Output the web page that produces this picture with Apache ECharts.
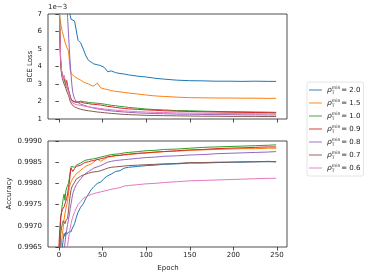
<!DOCTYPE html>
<html><head><meta charset="utf-8">
<script src="https://cdn.jsdelivr.net/npm/echarts@6/dist/echarts.min.js"></script>
<style>html,body{margin:0;padding:0;background:#fff}#c{width:374px;height:278px}</style>
</head><body><div id="c"></div>
<script>
var epochs = [0,1,2,3,4,5,6,7,8,9,10,11,12,13,14,15,16,18,20,22,25,28,31,34,37,40,44,48,52,56,60,65,70,75,80,90,100,110,120,135,150,165,180,195,210,225,240,249];
var labels = ['2.0','1.5','1.0','0.9','0.8','0.7','0.6'];
var colors = ['#1f77b4','#ff7f0e','#2ca02c','#d62728','#9467bd','#8c564b','#e377c2'];
var xTicks = [0,50,100,150,200,250];
// BCE loss in units of 1e-3
var loss20 = [16,15,14,13,12,11.5,11,10.5,10,9.3,8.5,7.9,7.3,6.9,6.7,6.6,6.8,6.6,6.6,5.5,5.35,5.0,4.6,4.35,4.25,4.15,4.1,4.05,3.95,3.7,3.75,3.65,3.6,3.57,3.52,3.45,3.4,3.33,3.28,3.22,3.19,3.18,3.16,3.16,3.15,3.16,3.15,3.15];
var loss15 = [7.8,6.9,6.5,6.2,6.0,5.8,5.6,5.4,5.3,5.1,5.0,4.9,4.4,3.8,3.6,3.55,3.5,3.42,3.35,3.3,3.22,3.12,3.05,3.0,2.92,2.88,3.05,2.78,2.72,2.68,2.62,2.58,2.55,2.52,2.48,2.43,2.37,2.32,2.29,2.25,2.22,2.21,2.2,2.2,2.19,2.19,2.18,2.18];
var loss10 = [9.5,6.5,4.5,3.8,3.6,3.4,3.3,3.1,2.9,2.8,2.9,2.6,2.5,2.3,2.1,2.05,2.0,2.0,1.98,1.97,2.02,2.0,1.97,1.95,1.93,1.92,1.9,1.88,1.85,1.82,1.78,1.76,1.72,1.7,1.66,1.62,1.57,1.54,1.52,1.48,1.47,1.45,1.43,1.42,1.41,1.4,1.39,1.38];
var loss09 = [9,6,4.3,3.7,3.5,3.6,3.4,3.2,3.0,3.2,2.9,2.7,2.5,2.3,2.15,2.05,2.0,1.98,1.95,1.96,1.97,1.92,1.9,1.88,1.85,1.84,1.82,1.8,1.76,1.72,1.7,1.66,1.63,1.6,1.58,1.55,1.52,1.5,1.47,1.45,1.43,1.41,1.4,1.39,1.38,1.37,1.36,1.35];
var loss08 = [14,13.5,13,12.5,12,11.5,11,10,9,7.8,6.8,5.9,5.0,4.2,3.5,2.9,2.5,2.15,2.0,1.92,1.85,1.8,1.75,1.7,1.66,1.62,1.58,1.55,1.52,1.49,1.46,1.44,1.42,1.4,1.38,1.35,1.33,1.31,1.3,1.28,1.27,1.26,1.25,1.25,1.24,1.24,1.23,1.23];
var loss07 = [9,5.8,4.2,3.6,3.3,3.2,3.0,2.9,2.75,2.6,2.5,2.35,2.2,2.0,1.9,1.82,1.76,1.7,1.65,1.6,1.56,1.52,1.49,1.47,1.45,1.43,1.4,1.38,1.36,1.34,1.32,1.3,1.28,1.26,1.25,1.23,1.21,1.2,1.19,1.18,1.17,1.16,1.16,1.15,1.15,1.15,1.14,1.14];
var loss06 = [9.5,6.3,4.5,3.8,3.5,3.3,3.5,3.3,3.1,2.9,2.8,2.6,2.4,2.2,2.05,1.95,1.9,1.85,1.82,1.8,1.78,1.75,1.72,1.7,1.67,1.65,1.62,1.6,1.57,1.55,1.53,1.5,1.48,1.46,1.45,1.42,1.4,1.38,1.37,1.35,1.34,1.33,1.32,1.31,1.31,1.3,1.3,1.29];
// Accuracy
var acc20 = [0.9945,0.9952,0.9958,0.9962,0.99650,0.99668,0.99682,0.99675,0.99685,0.99680,0.99682,0.99685,0.99684,0.99688,0.99686,0.99692,0.99695,0.99705,0.99720,0.99732,0.99744,0.99752,0.99765,0.99775,0.99785,0.99792,0.99800,0.99803,0.99812,0.99818,0.99822,0.99828,0.99830,0.99836,0.99838,0.99840,0.99842,0.99843,0.99845,0.99846,0.99848,0.99848,0.99849,0.99850,0.99850,0.99851,0.99851,0.99851];
var acc15 = [0.9955,0.9960,0.99635,0.99660,0.99680,0.99695,0.99715,0.99730,0.99740,0.99750,0.99758,0.99775,0.99790,0.99798,0.99804,0.99808,0.99812,0.99818,0.99822,0.99826,0.99831,0.99836,0.99841,0.99843,0.99846,0.99850,0.99858,0.99852,0.99857,0.99862,0.99863,0.99865,0.99866,0.99867,0.99868,0.99870,0.99872,0.99873,0.99875,0.99876,0.99878,0.99879,0.99880,0.99881,0.99882,0.99882,0.99883,0.99883];
var acc10 = [0.9962,0.9966,0.99710,0.99735,0.99750,0.99765,0.99775,0.99760,0.99782,0.99790,0.99788,0.99800,0.99812,0.99828,0.99840,0.99838,0.99836,0.99838,0.99843,0.99845,0.99848,0.99852,0.99855,0.99856,0.99857,0.99858,0.99860,0.99862,0.99864,0.99866,0.99868,0.99869,0.99870,0.99872,0.99873,0.99875,0.99877,0.99878,0.99880,0.99881,0.99883,0.99885,0.99886,0.99887,0.99888,0.99889,0.99890,0.99891];
var acc09 = [0.9965,0.99690,0.99720,0.99730,0.99738,0.99742,0.99745,0.99742,0.99748,0.99765,0.99775,0.99790,0.99802,0.99822,0.99836,0.99832,0.99828,0.99835,0.99840,0.99838,0.99843,0.99847,0.99850,0.99851,0.99853,0.99854,0.99856,0.99858,0.99860,0.99863,0.99864,0.99866,0.99866,0.99868,0.99869,0.99871,0.99872,0.99874,0.99875,0.99877,0.99879,0.99880,0.99882,0.99883,0.99884,0.99885,0.99886,0.99886];
var acc08 = [0.9940,0.9945,0.9950,0.9954,0.9958,0.9961,0.9964,0.99660,0.99678,0.99690,0.99703,0.99715,0.99725,0.99740,0.99752,0.99765,0.99776,0.99788,0.99797,0.99803,0.99811,0.99818,0.99824,0.99828,0.99832,0.99836,0.99839,0.99842,0.99846,0.99850,0.99852,0.99854,0.99855,0.99856,0.99857,0.99859,0.99861,0.99862,0.99864,0.99865,0.99867,0.99868,0.99870,0.99871,0.99872,0.99873,0.99874,0.99875];
var acc07 = [0.9955,0.9962,0.99678,0.99695,0.99705,0.99712,0.99710,0.99705,0.99712,0.99715,0.99718,0.99735,0.99756,0.99772,0.99785,0.99792,0.99796,0.99803,0.99810,0.99813,0.99817,0.99820,0.99822,0.99824,0.99826,0.99827,0.99828,0.99830,0.99833,0.99836,0.99838,0.99839,0.99840,0.99841,0.99842,0.99843,0.99844,0.99845,0.99846,0.99847,0.99849,0.99849,0.99850,0.99850,0.99851,0.99851,0.99852,0.99851];
var acc06 = [0.9930,0.9935,0.9940,0.9945,0.9950,0.9954,0.9958,0.9961,0.9963,0.99645,0.99654,0.99668,0.99682,0.99695,0.99705,0.99714,0.99721,0.99732,0.99742,0.99750,0.99757,0.99765,0.99768,0.99771,0.99774,0.99776,0.99778,0.99780,0.99782,0.99784,0.99786,0.99788,0.99790,0.99794,0.99795,0.99797,0.99799,0.99800,0.99802,0.99804,0.99806,0.99807,0.99808,0.99809,0.99810,0.99811,0.99812,0.99812];

var lossSets = [loss20,loss15,loss10,loss09,loss08,loss07,loss06];
var accSets = [acc20,acc15,acc10,acc09,acc08,acc07,acc06];

var FONT = 'DejaVu Sans';
function pairs(arr){ return epochs.map(function(e,i){ return [e, arr[i]]; }); }
function xAxis(idx, showLabels){
  return {
    type:'value', gridIndex:idx, min:-12.45, max:261.45,
    splitLine:{show:false}, axisLine:{show:false},
    axisTick:{show:true, length:3.5, lineStyle:{color:'#222', width:0.8}, customValues:xTicks},
    axisLabel:{show:showLabels, customValues:xTicks, margin:5, fontFamily:FONT, fontSize:7, color:'#222'}
  };
}
var series = [];
labels.forEach(function(l,i){
  series.push({name:l, type:'line', xAxisIndex:0, yAxisIndex:0, data:pairs(lossSets[i]), symbol:'none', clip:true,
    lineStyle:{width:1, color:colors[i]}, itemStyle:{color:colors[i]}, z:2+i, animation:false});
});
labels.forEach(function(l,i){
  series.push({name:l, type:'line', xAxisIndex:1, yAxisIndex:1, data:pairs(accSets[i]), symbol:'none', clip:true,
    lineStyle:{width:1, color:colors[i]}, itemStyle:{color:colors[i]}, z:2+i, animation:false});
});

var chart = echarts.init(document.getElementById('c'), null, {renderer:'canvas'});
chart.setOption({
  animation:false,
  backgroundColor:'#fff',
  grid:[
    {left:48, top:14, width:239, height:105, show:true, borderColor:'#222', borderWidth:0.8, backgroundColor:'transparent'},
    {left:48, top:141, width:239, height:106, show:true, borderColor:'#222', borderWidth:0.8, backgroundColor:'transparent'}
  ],
  xAxis:[xAxis(0,false), xAxis(1,true)],
  yAxis:[
    {type:'value', gridIndex:0, min:1, max:7, interval:1, splitLine:{show:false}, axisLine:{show:false},
     axisTick:{show:true, length:3.5, lineStyle:{color:'#222', width:0.8}},
     axisLabel:{margin:6, fontFamily:FONT, fontSize:7, color:'#222'}},
    {type:'value', gridIndex:1, min:0.9965, max:0.9990, interval:0.0005, splitLine:{show:false}, axisLine:{show:false},
     axisTick:{show:true, length:3.5, lineStyle:{color:'#222', width:0.8}},
     axisLabel:{margin:6, fontFamily:FONT, fontSize:7, color:'#222', formatter:function(v){return v.toFixed(4);}}}
  ],
  legend:{
    data:labels, orient:'vertical', left:307, top:82, padding:[3,3,3,2], itemGap:3,
    icon:'rect', itemWidth:13, itemHeight:1.2, backgroundColor:'#fff', borderColor:'#ddd', borderWidth:0.8, borderRadius:2,
    itemStyle:{opacity:0.75},
    formatter:function(n){ return '{r|ρ}{b|T}{p|min}{t|= ' + n + '}'; },
    textStyle:{fontFamily:FONT, fontSize:7, color:'#222', lineHeight:10,
      rich:{
        r:{fontFamily:FONT, fontSize:7.5, fontStyle:'italic', color:'#222', lineHeight:10},
        b:{fontFamily:FONT, fontSize:4.5, color:'#222', verticalAlign:'bottom', lineHeight:10, width:0.01, padding:[3,0,0,0]},
        p:{fontFamily:FONT, fontSize:4.5, color:'#222', verticalAlign:'top', lineHeight:10, padding:[0,1,3,0]},
        t:{fontFamily:FONT, fontSize:7, color:'#222', lineHeight:10}
      }}
  },
  graphic:[
    {type:'text', left:48, top:4, style:{text:'1e\u22123', font:'7px "DejaVu Sans"', fill:'#222'}},
    {type:'text', x:30, y:66.5, rotation:Math.PI/2, style:{text:'BCE Loss', font:'7px "DejaVu Sans"', fill:'#222', align:'center', verticalAlign:'middle'}},
    {type:'text', x:9.5, y:193.5, rotation:Math.PI/2, style:{text:'Accuracy', font:'7px "DejaVu Sans"', fill:'#222', align:'center', verticalAlign:'middle'}},
    {type:'text', x:168, y:268, style:{text:'Epoch', font:'7px "DejaVu Sans"', fill:'#222', align:'center', verticalAlign:'middle'}}
  ],
  series:series
});
</script></body></html>
